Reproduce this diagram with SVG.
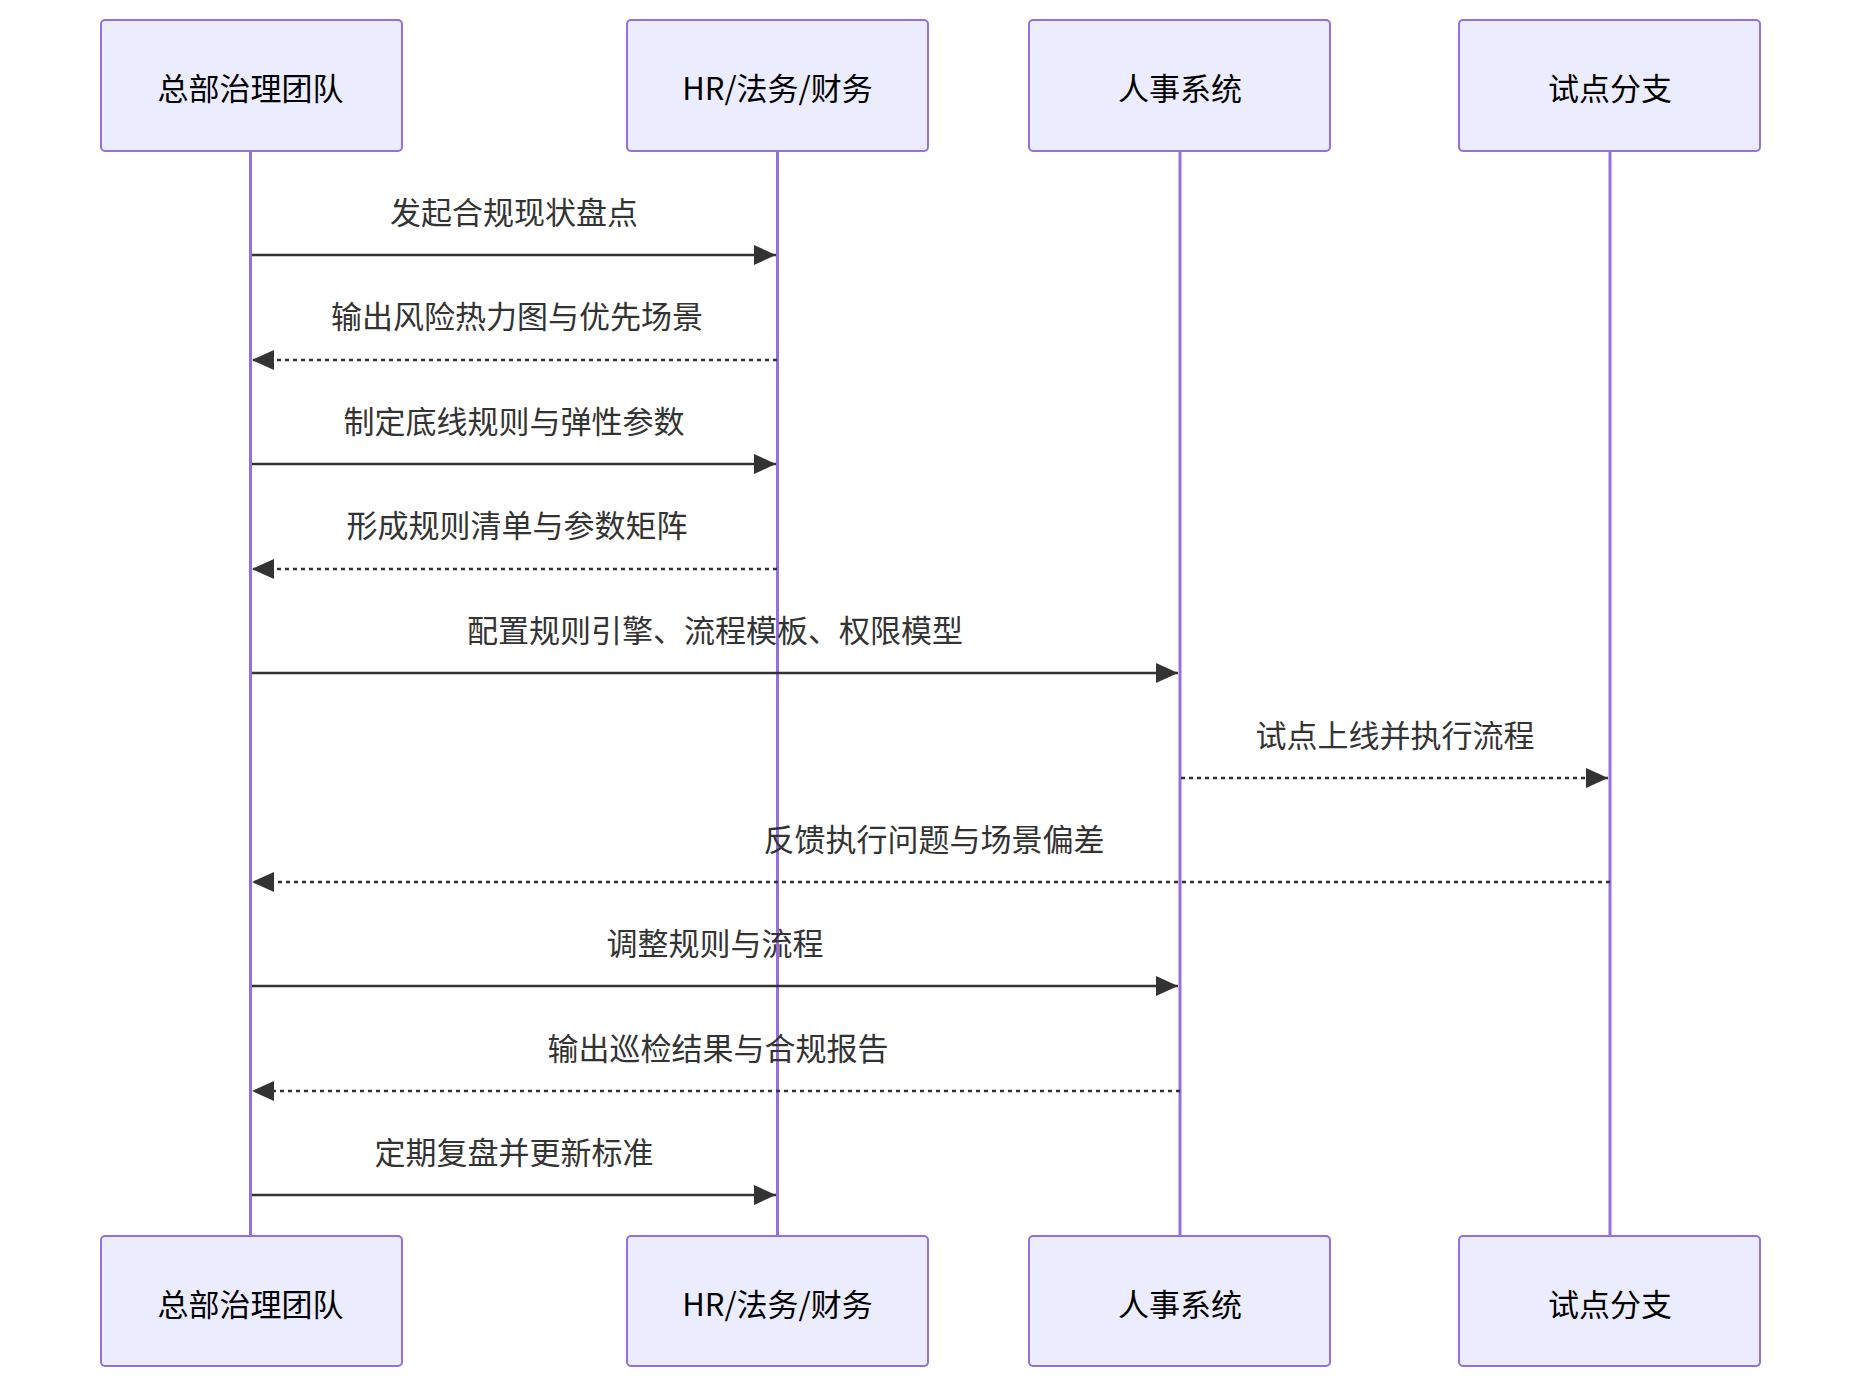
<svg xmlns="http://www.w3.org/2000/svg" width="1852" height="1382" viewBox="0 0 1852 1382">
<style>
.box{fill:#ECECFF;stroke:#9370DB;stroke-width:2}
.life{stroke:#9370DB;stroke-width:3}
.t{font-family:"Noto Sans CJK SC","Liberation Sans",sans-serif;font-size:31px;fill:#000;text-anchor:middle;dominant-baseline:central}
.m{font-family:"Noto Sans CJK SC","Liberation Sans",sans-serif;font-size:31px;fill:#333;text-anchor:middle;dominant-baseline:central}
.s{stroke:#333;stroke-width:2.5;fill:none}
.d{stroke:#333;stroke-width:2.5;fill:none;stroke-dasharray:4,4}
</style>
<defs>
<marker id="ah" markerWidth="12" markerHeight="12" viewBox="0 0 12 12" refX="12" refY="6" orient="auto" markerUnits="userSpaceOnUse"><path d="M0,0L12,6L0,12z" fill="#333"/></marker>
<marker id="ahb" markerWidth="22" markerHeight="20" viewBox="0 0 22 20" refX="22" refY="10" orient="auto" markerUnits="userSpaceOnUse"><path d="M0,0L22,10L0,20z" fill="#333"/></marker>
</defs>
<g id="lifelines">
<line class="life" x1="250.5" y1="151" x2="250.5" y2="1236"/>
<line class="life" x1="777.5" y1="151" x2="777.5" y2="1236"/>
<line class="life" x1="1180" y1="151" x2="1180" y2="1236"/>
<line class="life" x1="1610" y1="151" x2="1610" y2="1236"/>
</g>
<g id="p1"><rect class="box" x="101" y="20" width="301" height="131" rx="4"/><text class="t" x="250.5" y="86">总部治理团队</text></g>
<g id="p2"><rect class="box" x="627" y="20" width="301" height="131" rx="4"/><text class="t" x="777.5" y="86">HR/法务/财务</text></g>
<g id="p3"><rect class="box" x="1029" y="20" width="301" height="131" rx="4"/><text class="t" x="1180" y="86">人事系统</text></g>
<g id="p4"><rect class="box" x="1459" y="20" width="301" height="131" rx="4"/><text class="t" x="1610" y="86">试点分支</text></g>
<g id="p1b"><rect class="box" x="101" y="1236" width="301" height="130" rx="4"/><text class="t" x="250.5" y="1302">总部治理团队</text></g>
<g id="p2b"><rect class="box" x="627" y="1236" width="301" height="130" rx="4"/><text class="t" x="777.5" y="1302">HR/法务/财务</text></g>
<g id="p3b"><rect class="box" x="1029" y="1236" width="301" height="130" rx="4"/><text class="t" x="1180" y="1302">人事系统</text></g>
<g id="p4b"><rect class="box" x="1459" y="1236" width="301" height="130" rx="4"/><text class="t" x="1610" y="1302">试点分支</text></g>
<g id="connectors">
<line class="s" x1="252" y1="255" x2="776" y2="255" marker-end="url(#ahb)"/>
<text class="m" x="514" y="210">发起合规现状盘点</text>
<line class="d" x1="777" y1="360" x2="252" y2="360" marker-end="url(#ahb)"/>
<text class="m" x="517" y="314">输出风险热力图与优先场景</text>
<line class="s" x1="252" y1="464" x2="776" y2="464" marker-end="url(#ahb)"/>
<text class="m" x="514" y="419">制定底线规则与弹性参数</text>
<line class="d" x1="777" y1="569" x2="252" y2="569" marker-end="url(#ahb)"/>
<text class="m" x="517" y="523">形成规则清单与参数矩阵</text>
<line class="s" x1="252" y1="673" x2="1178" y2="673" marker-end="url(#ahb)"/>
<text class="m" x="715" y="628">配置规则引擎、流程模板、权限模型</text>
<line class="d" x1="1181" y1="778" x2="1608" y2="778" marker-end="url(#ahb)"/>
<text class="m" x="1395" y="733">试点上线并执行流程</text>
<line class="d" x1="1610" y1="882" x2="252" y2="882" marker-end="url(#ahb)"/>
<text class="m" x="934" y="837">反馈执行问题与场景偏差</text>
<line class="s" x1="252" y1="986" x2="1178" y2="986" marker-end="url(#ahb)"/>
<text class="m" x="715" y="941">调整规则与流程</text>
<line class="d" x1="1180" y1="1091" x2="252" y2="1091" marker-end="url(#ahb)"/>
<text class="m" x="718" y="1046">输出巡检结果与合规报告</text>
<line class="s" x1="252" y1="1195" x2="776" y2="1195" marker-end="url(#ahb)"/>
<text class="m" x="514" y="1150">定期复盘并更新标准</text>
</g>
</svg>
